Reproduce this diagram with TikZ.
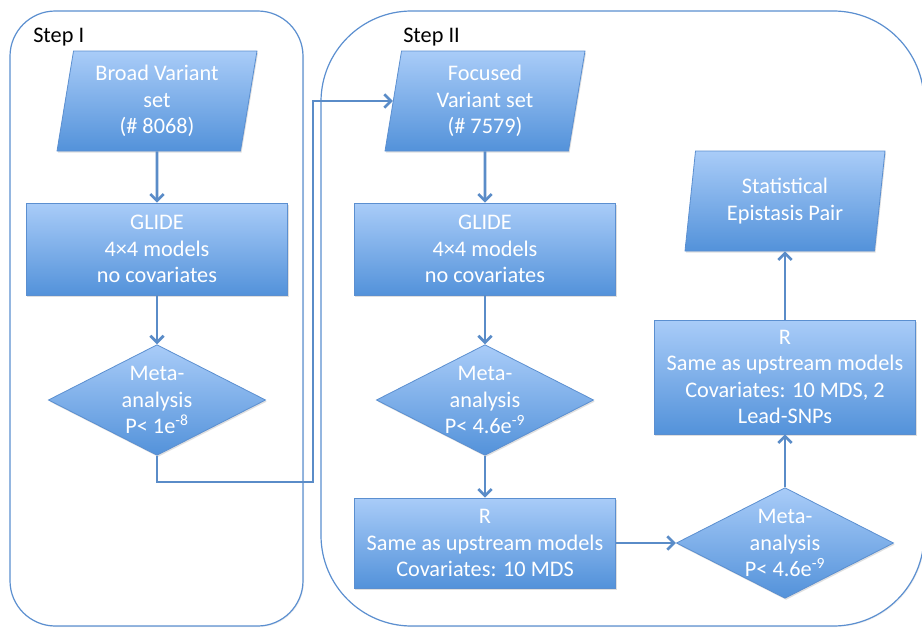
\documentclass[tikz,border=0pt]{standalone}
\usepackage{fontspec}
\setmainfont{Carlito}
\usetikzlibrary{shapes.geometric,arrows.meta,shadows}
\definecolor{bluchiaro}{HTML}{A9CCF8}
\definecolor{bluscuro}{HTML}{5392DA}
\definecolor{bordo}{HTML}{5B8FD0}
\definecolor{linea}{HTML}{5A8CC8}

\begin{document}
\begin{tikzpicture}[
    x=0.75pt,y=-0.75pt,
    font=\fontsize{16.7}{19.9}\selectfont,
    riquadro/.style={draw=bordo,line width=0.9pt,
      drop shadow={opacity=0.12,shadow xshift=0.8pt,shadow yshift=-0.8pt}},
    passo/.style={text=black,anchor=west,inner sep=0pt},
    forma/.style={draw=bordo,line width=0.6pt,top color=bluchiaro,
      bottom color=bluscuro,text=white,align=center,inner sep=0pt,
      drop shadow={opacity=0.25,shadow xshift=0.8pt,shadow yshift=-1.2pt}},
    blocco/.style={forma,rectangle,minimum width=196pt},
    dati/.style={forma,trapezium,trapezium left angle=77,
      trapezium right angle=103,trapezium stretches body,
      minimum width=150pt,minimum height=75pt},
    decisione/.style={forma,diamond,aspect=1.95,
      minimum width=163pt,minimum height=83pt},
    freccia/.style={draw=linea,line width=2pt,
      -{Straight Barb[length=5pt,width=10pt]}}]

  \useasboundingbox (0,0) rectangle (922,628);

  % ---- riquadri dei due passi ----------------------------------------------
  \draw[riquadro,fill=white,rounded corners=34pt] (10,11) rectangle (303,626);
  \draw[riquadro,fill=white,rounded corners=68pt] (321,11) rectangle (924,626);
  \node[passo] (passoI)  at (33,37)  {Step I};
  \node[passo] (passoII) at (403,37) {Step II};

  % ---- passo I ---------------------------------------------------------------
  \node[dati] (ampio) at (157,101) {Broad Variant\\set\\(\# 8068)};
  \node[blocco,minimum height=69pt] (glide1) at (157,249)
    {GLIDE\\4×4 models\\no covariates};
  \node[decisione] (meta1) at (157,400) {Meta-\\analysis\\P< 1e\textsuperscript{-8}};

  % ---- passo II --------------------------------------------------------------
  \node[dati] (mirato) at (485,101) {Focused\\Variant set\\(\# 7579)};
  \node[blocco,minimum height=69pt] (glide2) at (485,249)
    {GLIDE\\4×4 models\\no covariates};
  \node[decisione] (meta2) at (485,400) {Meta-\\analysis\\P< 4.6e\textsuperscript{-9}};
  \node[blocco,minimum height=67.5pt] (erre1) at (485,543)
    {R\\Same as upstream models\\Covariates: 10 MDS};
  \node[decisione] (meta3) at (785,543) {Meta-\\analysis\\P< 4.6e\textsuperscript{-9}};
  \node[blocco,minimum height=85.5pt] (erre2) at (785,377)
    {R\\Same as upstream models\\Covariates: 10 MDS, 2\\Lead-SNPs};
  \node[dati] (coppia) at (785,201) {Statistical\\Epistasis Pair};

  % ---- frecce ----------------------------------------------------------------
  \coordinate (gomito) at (313,482);
  \draw[freccia] (ampio) -- (glide1);
  \draw[freccia] (glide1) -- (meta1);
  \draw[freccia] (meta1.south) |- (gomito) |- (mirato.west);
  \draw[freccia] (mirato) -- (glide2);
  \draw[freccia] (glide2) -- (meta2);
  \draw[freccia] (meta2) -- (erre1);
  \draw[freccia] (erre1) -- (meta3);
  \draw[freccia] (meta3) -- (erre2);
  \draw[freccia] (erre2) -- (coppia);

\end{tikzpicture}
\end{document}
